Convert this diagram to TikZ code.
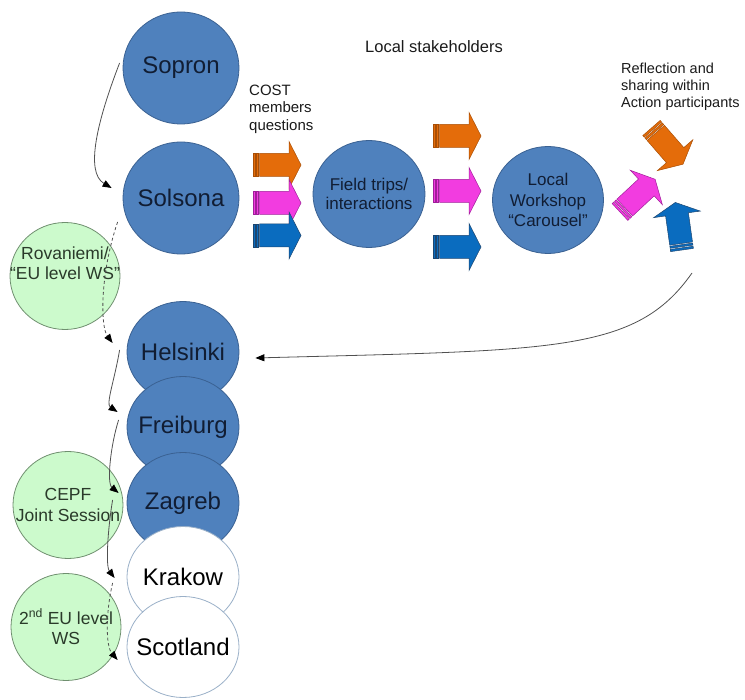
\documentclass[tikz,border=0pt]{standalone}
\usepackage{fontspec}
\setmainfont{Liberation Sans}
\usetikzlibrary{arrows.meta,shapes.geometric,calc}

\definecolor{cityblue}{HTML}{4F81BD}
\definecolor{cityedge}{HTML}{3A6192}
\definecolor{citytext}{HTML}{111D33}
\definecolor{mintfill}{HTML}{CCFACC}
\definecolor{mintedge}{HTML}{6F8F6F}
\definecolor{minttext}{HTML}{2A3A2A}
\definecolor{plainedge}{HTML}{9AB0C8}
\definecolor{arrOrange}{HTML}{E46C0A}
\definecolor{arrOrangeD}{HTML}{A94F06}
\definecolor{arrMagenta}{HTML}{F23CE0}
\definecolor{arrMagentaD}{HTML}{A0209A}
\definecolor{arrBlue}{HTML}{0A6CBF}
\definecolor{arrBlueD}{HTML}{1D4670}
\definecolor{linkgray}{HTML}{505050}
\definecolor{captext}{HTML}{1A1A1A}

\tikzset{
  city/.style={ellipse, draw=cityedge, fill=cityblue, line width=0.8pt, inner sep=0pt},
  plaincity/.style={ellipse, draw=plainedge, fill=white, line width=0.8pt, inner sep=0pt},
  meeting/.style={ellipse, draw=mintedge, fill=mintfill, line width=0.8pt, inner sep=0pt,
    minimum width=110pt, minimum height=107pt},
  cityname/.style={text=citytext, font=\fontsize{24}{28}\selectfont, inner sep=0pt},
  plainname/.style={text=black, font=\fontsize{24}{28}\selectfont, inner sep=0pt},
  stagename/.style={text=citytext, align=center, inner sep=0pt},
  meetname/.style={text=minttext, align=center, inner sep=0pt, font=\fontsize{17.5}{20.5}\selectfont},
  caption/.style={text=captext, inner sep=0pt},
  lowcity/.style={minimum width=112pt, minimum height=101pt},
  link/.style={draw=linkgray, line width=0.8pt, -{Triangle[length=9pt,width=7pt,color=black]}},
  dashlink/.style={link, dash pattern=on 3pt off 2.5pt},
  pics/striparrow/.style 2 args={code={
    \path[fill=#1, draw=#2, line width=0.5pt, line join=miter]
      (6.5,-11.5) -- (36,-11.5) -- (36,-23.5) -- (48,0) -- (36,23.5) -- (36,11.5) -- (6.5,11.5) -- cycle;
    \path[fill=#1, draw=#2, line width=0.5pt] (0,-11.5) rectangle (2.2,11.5);
    \path[fill=#1, draw=#2, line width=0.5pt] (3.3,-11.5) rectangle (5.4,11.5);
  }}
}

\begin{document}
\begin{tikzpicture}[x=1pt,y=-1pt]
\useasboundingbox (0,0) rectangle (745,700);

% upper stations
\node[city, minimum width=116pt, minimum height=112pt,
      label={[cityname]center:Sopron}] (sopron) at (181,68) {};
\node[city, minimum width=116pt, minimum height=112pt,
      label={[cityname]center:Solsona}] (solsona) at (181,198) {};

% stages of a local visit
\node[city, minimum width=112pt, minimum height=107pt,
      label={[stagename, font=\fontsize{17}{18.5}\selectfont]center:{Field trips/\\interactions}}] (field) at (369,194) {};
\node[city, minimum width=111pt, minimum height=107pt,
      label={[stagename, font=\fontsize{17}{20.5}\selectfont]center:{Local\\Workshop\\“Carousel”}}] (workshop) at (548,200) {};

% lower stations, each one overlapping the previous
\node[city, lowcity, label={[cityname]center:Helsinki}] (helsinki) at (183,352) {};
\node[city, lowcity, label={[cityname]center:Freiburg}] (freiburg) at (183,427) {};
\node[city, lowcity, label={[cityname]center:Zagreb}] (zagreb) at (183,503) {};
\node[plaincity, lowcity, label={[plainname]center:Krakow}] (krakow) at (183,577) {};
\node[plaincity, lowcity, label={[plainname]center:Scotland}] (scotland) at (183,647) {};

% joint events
\node[meeting, label={[meetname, yshift=13pt]center:{Rovaniemi/\\“EU level WS”}}] (rovaniemi) at (65,276) {};
\node[meeting, label={[meetname]center:{CEPF\\Joint Session}}] (cepf) at (68,505) {};
\node[meeting, label={[meetname]center:{2\textsuperscript{nd} EU level\\WS}}] (euws) at (66,627) {};

% captions
\node[caption, font=\fontsize{16.5}{20}\selectfont] (stake) at (434,47) {Local stakeholders};
\node[caption, anchor=west, align=left, font=\fontsize{15}{17.5}\selectfont] (cost) at (249,109) {COST\\members\\questions};
\node[caption, anchor=west, align=left, font=\fontsize{14.5}{17}\selectfont] (reflect) at (621,87) {Reflection and\\sharing within\\Action participants};

% striped block arrows
\pic at (253,165) {striparrow={arrOrange}{arrOrangeD}};
\pic at (253,203) {striparrow={arrMagenta}{arrMagentaD}};
\pic at (253,235.5) {striparrow={arrBlue}{arrBlueD}};

\pic at (433,136) {striparrow={arrOrange}{arrOrangeD}};
\pic at (433,191) {striparrow={arrMagenta}{arrMagentaD}};
\pic at (433,247) {striparrow={arrBlue}{arrBlueD}};

\pic[rotate=-49] at (651.5,128) {striparrow={arrOrange}{arrOrangeD}};
\pic[rotate=43] at (620,212) {striparrow={arrMagenta}{arrMagentaD}};
\pic[rotate=98] at (682,250) {striparrow={arrBlue}{arrBlueD}};

% sequence of stations
\draw[link] ($(sopron.west)+(-3,-5)$) .. controls +(-22,57) and +(-27,-16) .. ($(solsona.west)+(-11,-10)$);
\draw[dashlink] ($(solsona.west)+(-5,24)$) .. controls +(-18,53) and +(-12,-16) .. ($(helsinki.west)+(-14,-9)$);
\draw[link] ($(helsinki.west)+(-7,-2)$) .. controls +(-5,30) and +(-12,-8) .. ($(freiburg.west)+(-9,-15)$);
\draw[link] ($(freiburg.west)+(-8,-7)$) .. controls +(-8,25) and +(-12,-10) .. ($(zagreb.west)+(-8,-10)$);
\draw[link] ($(zagreb.west)+(-14,-3)$) .. controls +(-5,30) and +(-9,-12) .. ($(krakow.west)+(-12,1)$);
\draw[dashlink] ($(krakow.west)+(-14,6)$) .. controls +(-7,30) and +(-12,-14) .. ($(scotland.west)+(-9,13)$);

% return from the reflection round to the next station
\coordinate (retstart) at (692,273);
\draw[link] (retstart) .. controls (636,353) and (555,350) .. ($(helsinki.east)+(16,6)$);
\end{tikzpicture}
\end{document}
